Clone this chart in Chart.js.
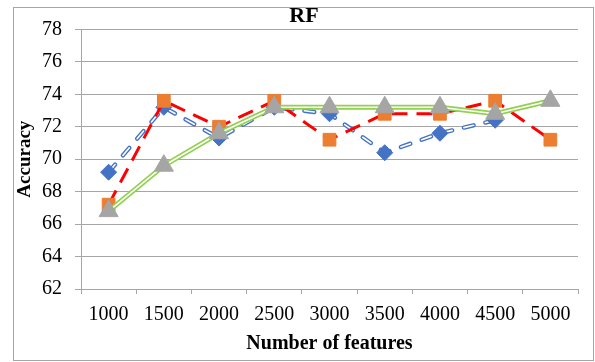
<!DOCTYPE html>
<html>
<head>
<meta charset="utf-8">
<script src="https://cdn.jsdelivr.net/npm/chart.js@4.4.0/dist/chart.umd.min.js"></script>
<style>
body { margin: 0; background: #fff; }
#frame { position: absolute; left: 13px; top: 7px; width: 579px; height: 352px; border: 1px solid #a6a6a6; }
#rf { position: absolute; left: 0; top: 0; }
</style>
</head>
<body>
<div id="frame"></div>
<canvas id="rf" width="595" height="362"></canvas>
<script>
var features = ['1000', '1500', '2000', '2500', '3000', '3500', '4000', '4500', '5000'];
var accBlue = [69.2, 73.2, 71.3, 73.2, 72.8, 70.4, 71.6, 72.4, null];
var accOrange = [67.2, 73.6, 72.0, 73.6, 71.2, 72.8, 72.8, 73.6, 71.2];
var accGray = [66.8, 69.6, 71.6, 73.2, 73.2, 73.2, 73.2, 72.8, 73.6];
var yTicks = [62, 64, 66, 68, 70, 72, 74, 76, 78];

Chart.defaults.font.family = "'Liberation Serif', 'Times New Roman', serif";
Chart.defaults.color = '#000';

var gridGray = '#a6a6a6';

var ctx = document.getElementById('rf').getContext('2d');
var chart = new Chart(ctx, {
    type: 'line',
    data: {
        labels: features,
        datasets: [
            // gray triangles on top
            { data: accGray, showLine: false, order: 0,
              pointStyle: 'triangle', pointRadius: 11, pointHoverRadius: 11,
              pointBackgroundColor: '#a5a5a5', pointBorderColor: '#a5a5a5', pointBorderWidth: 1 },
            // green double line (white core + green outer)
            { data: accGray, order: 1, borderColor: '#ffffff', borderWidth: 1.6, pointRadius: 0, tension: 0 },
            { data: accGray, order: 2, borderColor: '#92d050', borderWidth: 5, pointRadius: 0, tension: 0 },
            // red dashed line with orange squares
            { data: accOrange, order: 3, borderColor: '#ff0000', borderWidth: 3, borderDash: [16, 9],
              pointStyle: 'rect', pointRadius: 9, pointHoverRadius: 9,
              pointBackgroundColor: '#ed7d31', pointBorderColor: '#ed7d31', pointBorderWidth: 1, tension: 0 },
            // blue diamonds
            { data: accBlue, showLine: false, order: 4,
              pointStyle: 'rectRot', pointRadius: 8, pointHoverRadius: 8,
              pointBackgroundColor: '#4472c4', pointBorderColor: '#4472c4', pointBorderWidth: 1 },
            // blue outlined dashes
            { data: accBlue, order: 5, borderColor: '#ffffff', borderWidth: 1.6, borderDash: [10, 12],
              borderCapStyle: 'round', pointRadius: 0, tension: 0 },
            { data: accBlue, order: 6, borderColor: '#4472c4', borderWidth: 4.4, borderDash: [10, 12],
              borderCapStyle: 'round', pointRadius: 0, tension: 0 }
        ]
    },
    options: {
        responsive: false,
        animation: false,
        events: [],
        layout: { padding: { left: 13, right: 0, top: 0, bottom: 0 } },
        plugins: {
            legend: { display: false },
            tooltip: { enabled: false },
            title: {
                display: true, text: 'RF', color: '#000',
                font: { size: 22, weight: 'bold' },
                padding: { top: 3, bottom: 0 }
            }
        },
        scales: {
            x: {
                offset: true,
                grid: { offset: true, drawOnChartArea: false, drawTicks: true, tickLength: 5, color: gridGray },
                border: { display: true, color: gridGray },
                ticks: { font: { size: 20 }, padding: 9, maxRotation: 0, autoSkip: false },
                title: { display: true, text: 'Number of features', font: { size: 20, weight: 'bold' }, padding: { top: 0, bottom: 6 } },
                afterFit: function (s) { s.height = 73; }
            },
            y: {
                min: yTicks[0], max: yTicks[yTicks.length - 1],
                afterBuildTicks: function (s) { s.ticks = yTicks.map(function (v) { return { value: v }; }); },
                grid: { color: gridGray, tickLength: 6 },
                border: { display: true, color: gridGray },
                ticks: { font: { size: 20 }, padding: 13 },
                title: { display: true, text: 'Accuracy', font: { size: 19, weight: 'bold' }, padding: { top: 1, bottom: 0 } },
                afterFit: function (s) { s.width = 68; }
            },
            yRight: {
                position: 'right', display: true,
                grid: { display: false }, border: { display: false },
                ticks: { display: false },
                afterFit: function (s) { s.width = 17; }
            }
        }
    }
});
</script>
</body>
</html>
